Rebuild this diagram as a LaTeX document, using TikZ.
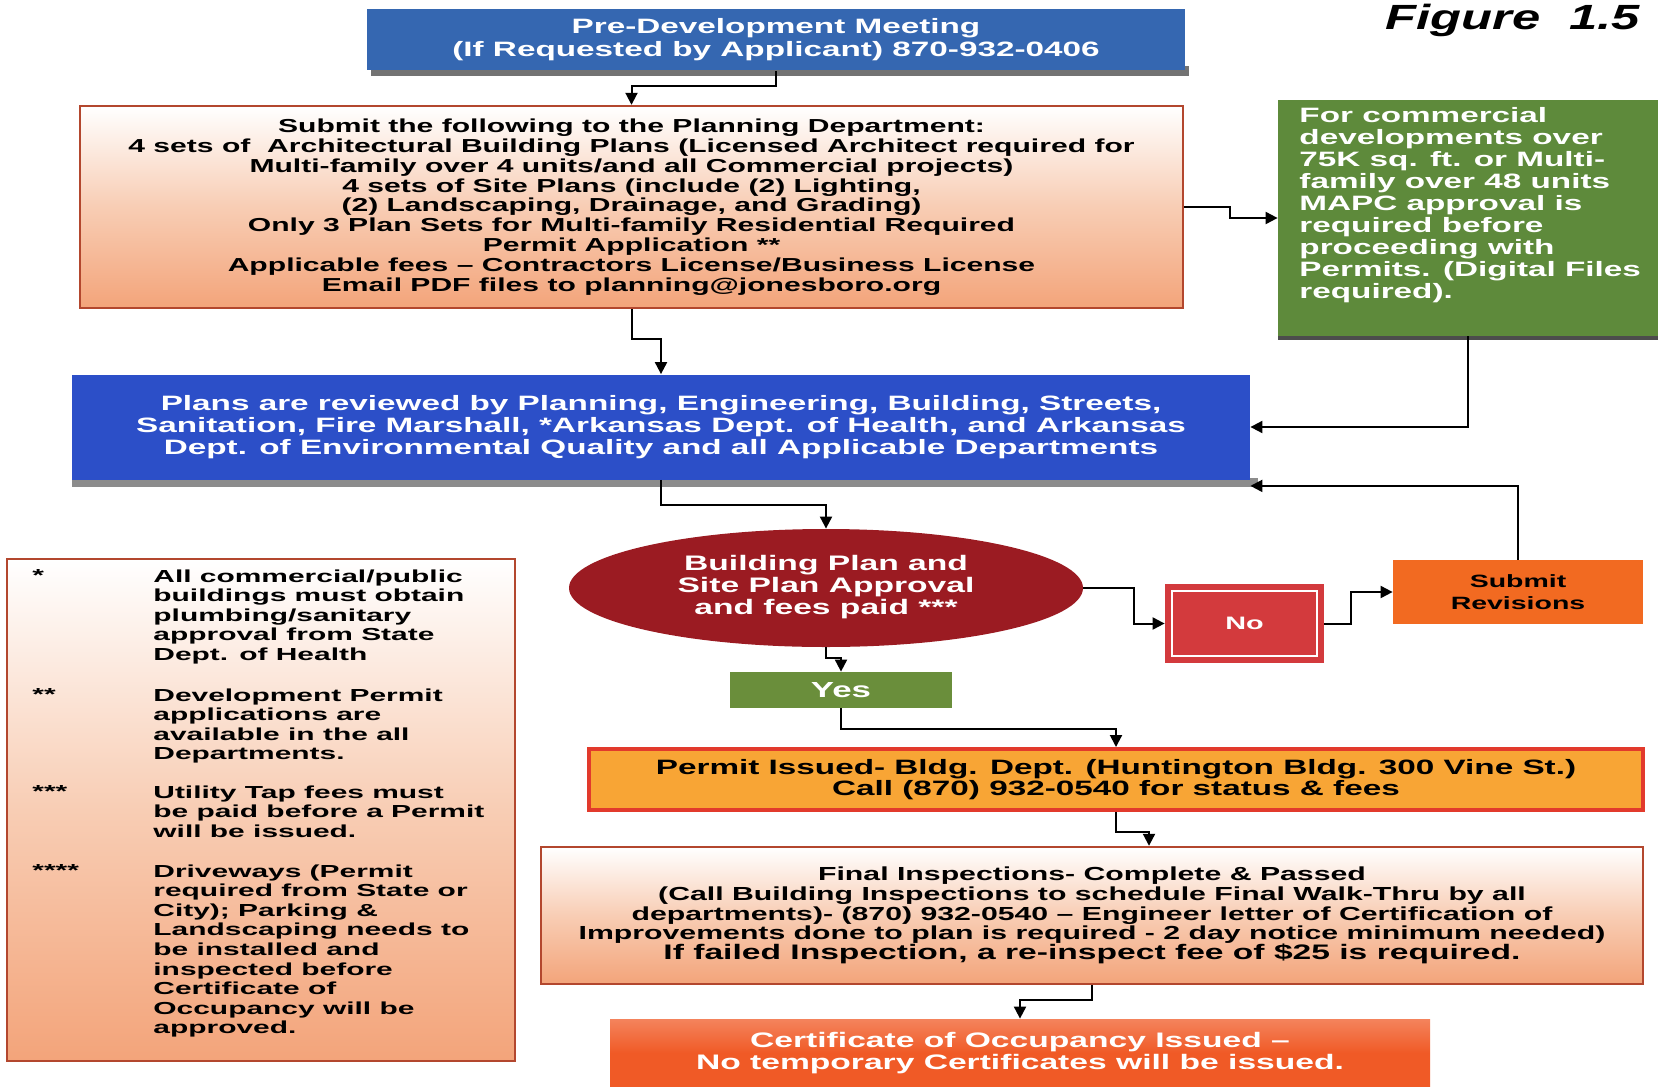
\documentclass[tikz,border=0pt]{standalone}
\usepackage{fontspec}
\setmainfont{Liberation Sans}[FakeStretch=1.6]
\newfontfamily\widefont{Liberation Sans}[FakeStretch=1.72]
\newfontfamily\figfont{Liberation Sans}[FakeStretch=1.45]
\usetikzlibrary{arrows.meta,shapes.geometric,calc}
\definecolor{preblue}{HTML}{3567B1}
\definecolor{plansblue}{HTML}{2C4FC8}
\definecolor{boxgreen}{HTML}{5E8A3B}
\definecolor{yesgreen}{HTML}{6A8E3B}
\definecolor{darkred}{HTML}{9B1B22}
\definecolor{nored}{HTML}{D33A3D}
\definecolor{revorange}{HTML}{F26A21}
\definecolor{permitfill}{HTML}{F8A535}
\definecolor{permitborder}{HTML}{E23A2C}
\definecolor{certorange}{HTML}{F05A26}
\definecolor{brownborder}{HTML}{B3472E}
\definecolor{peach}{HTML}{F3A47A}
\definecolor{peachmid}{HTML}{F8CDB4}
\begin{document}
\begin{tikzpicture}[x=0.5pt,y=-0.5pt,
  box/.style={rectangle, inner sep=0pt, align=center},
  peachbox/.style={box, draw=brownborder, line width=1.2pt, top color=white, bottom color=peach, middle color=peachmid},
  conn/.style={draw=black, line width=1pt, -{Triangle[length=6pt,width=6pt]}},
  shadowfill/.style={fill=black!55}]
\useasboundingbox (0,0) rectangle (1658,1086);

% title
\node[anchor=east, inner sep=0pt, font=\figfont\fontsize{17.5}{20}\selectfont\bfseries\itshape] (fig) at (1640,20) {Figure\ \ 1.5};

% shadows
\fill[shadowfill] (371,66) rectangle (1189,76);
\fill[black!45] (72,478) rectangle (1258,487);
\fill[black!70] (1278,333) rectangle (1658,340);

% nodes
\node[box, fill=preblue, text=white, minimum width=409pt, minimum height=30.5pt,
  font=\bfseries\fontsize{10.4}{11.6}\selectfont] (pre) at (776,40)
  {Pre-Development Meeting\\(If Requested by Applicant) 870-932-0406};

\node[peachbox, minimum width=551.5pt, minimum height=101pt,
  font=\bfseries\fontsize{9.4}{9.9}\selectfont] (submit) at (631.5,207)
  {Submit the following to the Planning Department:\\
   4 sets of\ \ Architectural Building Plans (Licensed Architect required for\\
   Multi-family over 4 units/and all Commercial projects)\\
   4 sets of Site Plans (include (2) Lighting,\\
   (2) Landscaping, Drainage, and Grading)\\
   Only 3 Plan Sets for Multi-family Residential Required\\
   Permit Application **\\
   Applicable fees -- Contractors License/Business License\\
   Email PDF files to planning@jonesboro.org};

\node[box, fill=boxgreen, minimum width=190pt, minimum height=118pt] (green) at (1468,218) {};
\node[anchor=north west, inner sep=0pt, align=left, text=white,
  font=\bfseries\fontsize{10.4}{11}\selectfont] (greentxt) at (1299,107)
  {For commercial\\developments over\\75K sq. ft. or Multi-\\family over 48 units\\MAPC approval is\\required before\\proceeding with\\Permits. (Digital Files\\required).};

\node[box, fill=plansblue, text=white, minimum width=589pt, minimum height=52.5pt,
  font=\bfseries\fontsize{10.4}{11}\selectfont] (plans) at (661,427)
  {Plans are reviewed by Planning, Engineering, Building, Streets,\\
   Sanitation, Fire Marshall, *Arkansas Dept. of Health, and Arkansas\\
   Dept. of Environmental Quality and all Applicable Departments};

\node[ellipse, inner sep=0pt, fill=darkred, text=white, minimum width=257pt, minimum height=59pt, align=center,
  font=\bfseries\fontsize{10.5}{11}\selectfont] (dec) at (826,588)
  {\raisebox{1.5pt}{\begin{tabular}{@{}c@{}}Building Plan and\\Site Plan Approval\\and fees paid ***\end{tabular}}};

\node[box, fill=nored, text=white, minimum width=79.5pt, minimum height=39.5pt,
  font=\bfseries\fontsize{9}{11}\selectfont] (no) at (1244.5,623.5) {No};
\draw[white, line width=1pt] ([shift={(3.5pt,-3.5pt)}]no.north west) rectangle ([shift={(-3.5pt,3.5pt)}]no.south east);

\node[box, fill=revorange, minimum width=125pt, minimum height=32pt,
  font=\bfseries\fontsize{8.9}{11}\selectfont] (rev) at (1518,592) {Submit\\Revisions};

\node[box, fill=yesgreen, text=white, minimum width=111pt, minimum height=18pt,
  font=\bfseries\fontsize{10.9}{11}\selectfont] (yes) at (841,690) {Yes};

\node[box, fill=permitfill, draw=permitborder, line width=2pt, minimum width=527pt, minimum height=30.5pt,
  font=\bfseries\fontsize{10.4}{10.5}\selectfont] (permit) at (1116,779.5)
  {Permit Issued- Bldg. Dept. (Huntington Bldg. 300 Vine St.)\\Call (870) 932-0540 for status \& fees};

\node[peachbox, minimum width=551pt, minimum height=68.5pt,
  font=\bfseries\fontsize{9.45}{9.8}\selectfont] (final) at (1092,915.5)
  {Final Inspections- Complete \& Passed\\
   (Call Building Inspections to schedule Final Walk-Thru by all\\
   departments)- (870) 932-0540 -- Engineer letter of Certification of\\
   Improvements done to plan is required - 2 day notice minimum needed)\\
   {\fontsize{10.5}{11}\selectfont If failed Inspection, a re-inspect fee of \$25 is required.}};

\node[box, top color=certorange!75!white, bottom color=certorange, middle color=certorange, text=white, minimum width=410pt, minimum height=34pt,
  font=\bfseries\fontsize{10.5}{11}\selectfont] (cert) at (1020,1053)
  {Certificate of Occupancy Issued --\\No temporary Certificates will be issued.};

% legend
\node[peachbox, minimum width=254pt, minimum height=251pt] (legend) at (261,810) {};
\begin{scope}[every node/.style={anchor=north west, inner sep=0pt, align=left,
    font=\widefont\bfseries\fontsize{8.7}{9.8}\selectfont}]
  \node (s1) at (32,569) {*};
  \node (t1) at (153,569) {All commercial/public\\buildings must obtain\\plumbing/sanitary\\approval from State\\Dept. of Health};
  \node (s2) at (32,688) {**};
  \node (t2) at (153,688) {Development Permit\\applications are\\available in the all\\Departments.};
  \node (s3) at (32,785) {***};
  \node (t3) at (153,785) {Utility Tap fees must\\be paid before a Permit\\will be issued.};
  \node (s4) at (32,864) {****};
  \node (t4) at (153,864) {Driveways (Permit\\required from State or\\City); Parking \&\\Landscaping needs to\\be installed and\\inspected before\\Certificate of\\Occupancy will be\\approved.};
\end{scope}

% connectors
\draw[conn] (pre.south) -- ++(0,15) -| (submit.north);
\draw[conn] (submit.east) -- ++(46,0) |- (green.west);
\draw[conn] (submit.south) -- ++(0,30) -| (plans.north);
\draw[conn] (green.south) |- (plans.east);
\draw[conn] (plans.south) -- ++(0,25) -| (dec.north);
\draw[conn] (dec.east) -- ++(51,0) |- (no.west);
\draw[conn] (no.east) -- ++(27,0) |- (rev.west);
\draw[conn] (rev.north) |- ([yshift=-3pt]plans.south east);
\draw[conn] (dec.south) -- ++(0,11) -| (yes.north);
\draw[conn] (yes.south) -- ++(0,21) -| (permit.north);
\draw[conn] (permit.south) -- ++(0,20) -| ([xshift=28.5pt]final.north);
\draw[conn] (final.south) -- ++(0,15) -| (cert.north);
\end{tikzpicture}
\end{document}
